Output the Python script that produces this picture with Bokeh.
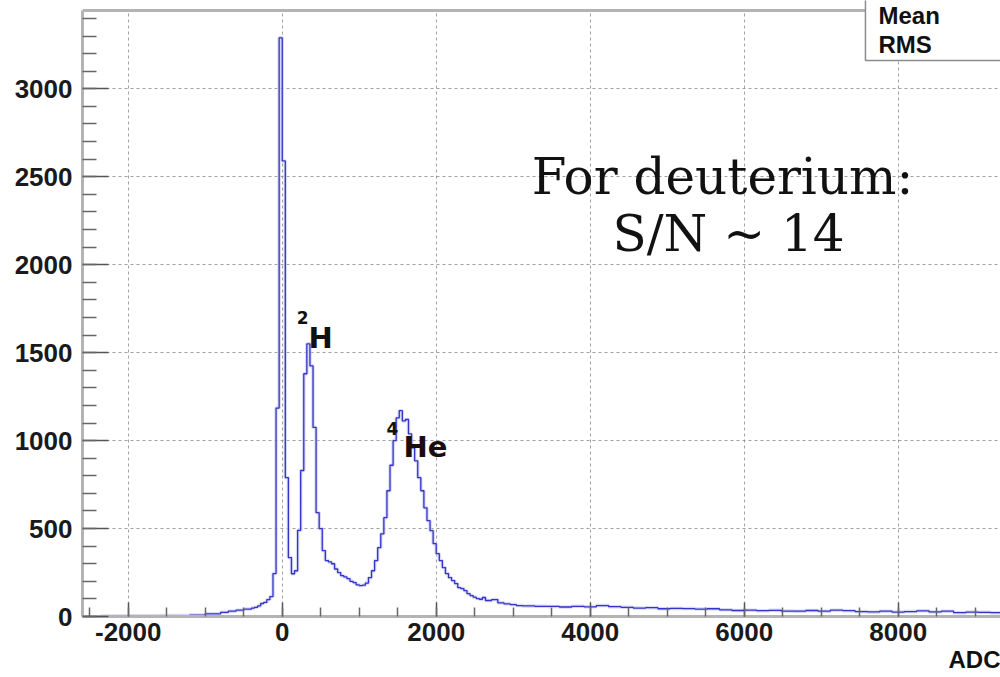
from bokeh.plotting import figure
from bokeh.models import Range1d, SingleIntervalTicker, Label, Title, PrintfTickFormatter
from bokeh.embed import file_html
from bokeh.resources import INLINE

# ---------------- data ----------------
left_edges = [-2360, -2000, -1600, -1200, -1000, -800, -700, -600, -500, -400]
left_counts = [3, 4, 5, 8, 15, 24, 30, 36, 42]

core_start = -400
core_width = 40
core_counts = [48, 52, 60, 74, 80, 96, 113, 244, 1185, 3290,
               2590, 790, 335, 243, 260, 490, 830, 1380, 1550, 1425,
               1075, 590, 500, 375, 318, 310, 300, 270, 250, 232,
               225, 215, 200, 193, 180, 176, 178, 190, 221, 260,
               318, 391, 470, 562, 715, 860, 1000, 1129, 1170, 1112,
               1120, 1038, 959, 885, 789, 715, 618, 545, 488, 414,
               357, 318, 278, 244, 221, 204, 187, 164, 159, 147,
               130, 119, 110, 102, 98, 108]

mid_start = 2640
mid_width = 80
mid_counts = [91, 96, 78, 72, 68, 62]

tail_start = 3120
tail_width = 160
tail_counts = [60, 58, 57, 54, 58, 55, 62, 56, 52, 48,
               50, 44, 46, 45, 42, 44, 38, 34, 36, 33,
               35, 31, 30, 34, 30, 36, 33, 28, 26, 30,
               25, 28, 32, 26, 30, 22, 25, 24, 22]

x_ticks_interval = 2000
y_ticks_interval = 500
x_axis_label = "ADC"
stats_labels = ["Mean", "RMS"]
note_lines = ["For deuterium:", "S/N ~ 14"]

# ---------------- build histogram edges ----------------
edges = list(left_edges)
counts = list(left_counts)
for start, w, cs in [(core_start, core_width, core_counts),
                     (mid_start, mid_width, mid_counts),
                     (tail_start, tail_width, tail_counts)]:
    for i, c in enumerate(cs):
        edges.append(start + (i + 1) * w)
        counts.append(c)
step_y = counts + [counts[-1]]

XMIN, XMAX = -2594, 9329
YMIN, YMAX = 0, 3502
FRAME_TOP = 3445

p = figure(width=1000, height=677, output_backend="svg", toolbar_location=None,
           x_range=Range1d(XMIN, XMAX), y_range=Range1d(YMIN, YMAX),
           min_border_left=82, min_border_right=0, min_border_top=0,
           min_border_bottom=61)
p.outline_line_color = None
p.background_fill_color = "white"
p.border_fill_color = "white"

# grid
for g in (p.xgrid, p.ygrid):
    g.grid_line_color = "#8a8a8a"
    g.grid_line_dash = "3 3"
    g.grid_line_width = 1
    g.grid_line_alpha = 0.8

p.xaxis.ticker = SingleIntervalTicker(interval=x_ticks_interval, num_minor_ticks=4)
p.yaxis.ticker = SingleIntervalTicker(interval=y_ticks_interval, num_minor_ticks=5)
p.xgrid.ticker = p.xaxis.ticker
p.ygrid.ticker = p.yaxis.ticker
p.xaxis.formatter = PrintfTickFormatter(format="%d")
p.yaxis.formatter = PrintfTickFormatter(format="%d")

for ax in (p.xaxis, p.yaxis):
    ax.axis_line_color = "#b4b4b4"
    ax.axis_line_width = 3
    ax.major_tick_line_color = "#555555"
    ax.minor_tick_line_color = "#666666"
    ax.major_tick_line_width = 1.5
    ax.minor_tick_line_width = 1.5
    ax.major_tick_out = 0
    ax.minor_tick_out = 0
    ax.major_label_text_font = "Liberation Sans"
    ax.major_label_text_font_style = "bold"
    ax.major_label_text_font_size = "26px"
    ax.major_label_text_color = "#1a1a1a"

p.xaxis.major_tick_in = 14
p.xaxis.minor_tick_in = 9
p.xaxis.major_label_standoff = 6
p.yaxis.major_tick_in = 26
p.yaxis.minor_tick_in = 14
p.yaxis.major_label_standoff = 10
p.yaxis.bounds = (YMIN, FRAME_TOP)

# x axis title, right aligned like ROOT
p.add_layout(Title(text=x_axis_label, align="right", text_font="Liberation Sans",
                   text_font_style="bold", text_font_size="24px",
                   text_color="#111111", standoff=0), "below")

# histogram (halo + line)
p.step(x=edges, y=step_y, mode="after", line_color="#c8c8f0", line_width=3.5, line_alpha=0.7)
p.step(x=edges, y=step_y, mode="after", line_color="#3434c8", line_width=1.3)

# cover above frame top and draw top frame line
p.quad(left=[XMIN], right=[XMAX], bottom=[FRAME_TOP], top=[YMAX + 200],
       fill_color="white", line_color=None)
p.segment(x0=[XMIN], y0=[FRAME_TOP], x1=[7575], y1=[FRAME_TOP],
          line_color="#b4b4b4", line_width=3)

# stats box
p.quad(left=[7575], right=[XMAX + 500], bottom=[3161], top=[YMAX + 200],
       fill_color="white", line_color="#8c8c8c", line_width=1.5)

def lab(x, y, t, size, font="DejaVu Sans", style="bold", align="left", color="#111111"):
    p.add_layout(Label(x=x, y=y, text=t, text_font=font, text_font_style=style,
                       text_font_size=size, text_align=align,
                       text_baseline="alphabetic", text_color=color))

lab(7744, 3417, stats_labels[0], "24px", font="Liberation Sans")
lab(7744, 3252, stats_labels[1], "24px", font="Liberation Sans")

lab(5718, 2501, note_lines[0], "50px", font="DejaVu Serif", style="normal", align="center")
lab(5796, 2172, note_lines[1], "50px", font="DejaVu Serif", style="normal", align="center")

lab(190, 1700, "2", "17px")
lab(342, 1581, "H", "29px")
lab(1355, 1070, "4", "17px")
lab(1575, 966, "He", "29px", color="#1a0d0d")

open("out.html", "w").write(file_html(p, INLINE))
